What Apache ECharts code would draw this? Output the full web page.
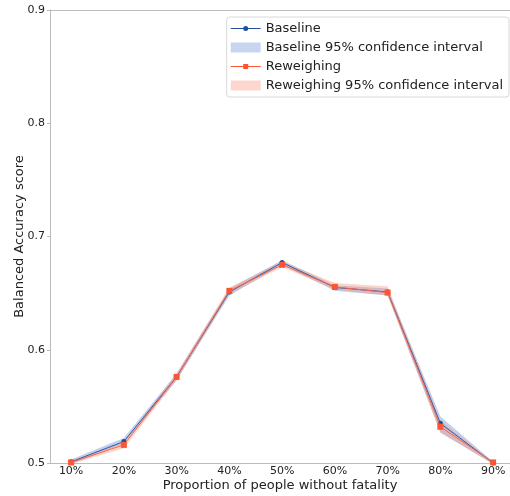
<!DOCTYPE html>
<html lang="en">
<head>
    <meta charset="utf-8"/>
    <title>Balanced Accuracy</title>
    <script src="https://cdn.jsdelivr.net/npm/echarts@6/dist/echarts.min.js"></script>
    <style>
        html, body { margin: 0; padding: 0; background: #fff; }
        #chart { width: 510px; height: 496px; }
    </style>
</head>
<body>
<div id="chart"></div>
<script type="text/javascript">
    var categories = ['10%', '20%', '30%', '40%', '50%', '60%', '70%', '80%', '90%'];
    var yTicks = [0.5, 0.6, 0.7, 0.8, 0.9];

    var baseline = [0.501, 0.519, 0.576, 0.651, 0.677, 0.655, 0.651, 0.535, 0.500];
    var baselineLow = [0.499, 0.517, 0.573, 0.648, 0.675, 0.652, 0.648, 0.527, 0.499];
    var baselineHigh = [0.503, 0.522, 0.579, 0.654, 0.679, 0.657, 0.654, 0.541, 0.501];

    var reweigh = [0.5005, 0.516, 0.576, 0.652, 0.675, 0.6555, 0.6505, 0.532, 0.5005];
    var reweighLow = [0.499, 0.513, 0.573, 0.649, 0.673, 0.653, 0.648, 0.527, 0.499];
    var reweighHigh = [0.502, 0.519, 0.579, 0.655, 0.678, 0.659, 0.656, 0.537, 0.501];

    function pts(arr) {
        return arr.map(function (v, i) { return [i, v]; });
    }

    // band drawn as one polygon: upper edge forward, lower edge back
    function band(lo, hi, color) {
        return function (params, api) {
            if (params.dataIndex !== 0) return null;
            var poly = [];
            for (var i = 0; i < hi.length; i++) poly.push(api.coord([i, hi[i]]));
            for (var j = lo.length - 1; j >= 0; j--) poly.push(api.coord([j, lo[j]]));
            return {
                type: 'polygon',
                shape: { points: poly },
                style: { fill: color },
                clipPath: {
                    type: 'rect',
                    shape: {
                        x: params.coordSys.x, y: params.coordSys.y,
                        width: params.coordSys.width, height: params.coordSys.height
                    }
                }
            };
        };
    }

    // legend icons: thin line with a small marker in the middle
    var dotIcon = 'path://M0 4.5H30V5.5H0Z M17.5 5A2.5 2.5 0 1 1 12.5 5A2.5 2.5 0 1 1 17.5 5Z';
    var squareIcon = 'path://M0 4.5H30V5.5H0Z M12.5 2.5H17.5V7.5H12.5Z';

    var font = 'DejaVu Sans';
    var chart = echarts.init(document.getElementById('chart'));

    var option = {
        animation: false,
        textStyle: { fontFamily: font },
        grid: { left: 50, right: 0, top: 10, bottom: 33, outerBoundsMode: 'none', containLabel: false },
        legend: {
            orient: 'vertical',
            right: 1,
            top: 17,
            padding: [5, 6, 5, 4],
            itemGap: 6,
            itemWidth: 30,
            itemHeight: 10,
            borderColor: '#d8d8d8',
            borderWidth: 1,
            borderRadius: 3,
            textStyle: { fontSize: 13, color: '#222', fontFamily: font },
            data: [
                { name: 'Baseline', icon: dotIcon },
                { name: 'Baseline 95% confidence interval', icon: 'rect' },
                { name: 'Reweighing', icon: squareIcon },
                { name: 'Reweighing 95% confidence interval', icon: 'rect' }
            ]
        },
        xAxis: [{
            type: 'value',
            min: -0.4,
            max: 8.32,
            name: 'Proportion of people without fatality',
            nameLocation: 'middle',
            nameGap: 16,
            nameMoveOverlap: false,
            nameTextStyle: { fontSize: 13, color: '#222', verticalAlign: 'top' },
            axisLine: { onZero: false, lineStyle: { color: '#bbb' } },
            axisTick: { show: false },
            splitLine: { show: false },
            axisLabel: {
                customValues: [0, 1, 2, 3, 4, 5, 6, 7, 8],
                formatter: function (v) { return categories[Math.round(v)]; },
                fontSize: 11,
                color: '#222',
                margin: 3
            }
        }, {
            type: 'value',
            position: 'top',
            min: -0.4,
            max: 8.32,
            axisLine: { show: true, onZero: false, lineStyle: { color: '#bbb' } },
            axisTick: { show: false },
            axisLabel: { show: false },
            splitLine: { show: false }
        }],
        yAxis: {
            type: 'value',
            min: yTicks[0],
            max: yTicks[yTicks.length - 1],
            interval: 0.1,
            name: 'Balanced Accuracy score',
            nameLocation: 'middle',
            nameGap: 24,
            nameMoveOverlap: false,
            nameTextStyle: { fontSize: 13, color: '#222' },
            axisLine: { show: true, onZero: false, lineStyle: { color: '#bbb' } },
            axisTick: { show: true, length: 3, lineStyle: { color: '#bbb' } },
            splitLine: { show: false },
            axisLabel: { fontSize: 11, color: '#222', margin: 5 }
        },
        series: [
            {
                name: 'Baseline 95% confidence interval', type: 'custom',
                renderItem: band(baselineLow, baselineHigh, 'rgba(130,160,215,0.5)'),
                data: pts(baselineHigh), encode: { x: 0, y: 1 },
                itemStyle: { color: '#c7d6ee' }, z: 1
            },
            {
                name: 'Reweighing 95% confidence interval', type: 'custom',
                renderItem: band(reweighLow, reweighHigh, 'rgba(252,150,125,0.4)'),
                data: pts(reweighHigh), encode: { x: 0, y: 1 },
                itemStyle: { color: '#fdd7ce' }, z: 1
            },
            {
                name: 'Baseline', type: 'line', data: pts(baseline),
                symbol: 'circle', symbolSize: 5,
                itemStyle: { color: '#1f4f9e' },
                lineStyle: { color: '#2b5cad', width: 1 }, z: 3
            },
            {
                name: 'Reweighing', type: 'line', data: pts(reweigh),
                symbol: 'rect', symbolSize: 6,
                itemStyle: { color: '#fb5532' },
                lineStyle: { color: '#f8674a', width: 1 }, z: 4
            }
        ]
    };

    chart.setOption(option);
</script>
</body>
</html>
